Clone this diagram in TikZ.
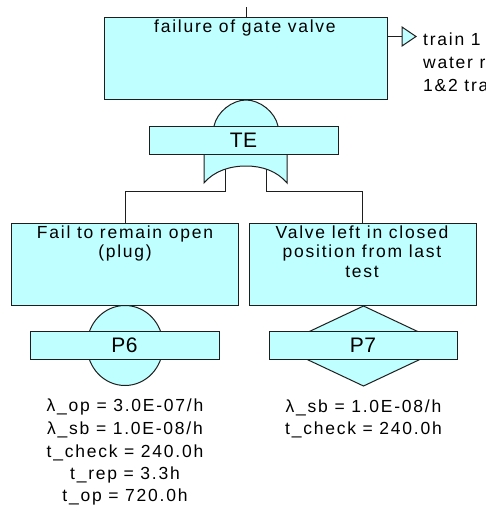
\documentclass[tikz,border=0pt]{standalone}
\usepackage{fontspec}
\newfontfamily\bodyfont{Liberation Sans}[LetterSpace=10]
\newfontfamily\gatefont{Liberation Sans}[LetterSpace=3]
\definecolor{gatefill}{RGB}{192,255,255}
\definecolor{edge}{RGB}{30,30,30}

\begin{document}
\begin{tikzpicture}[x=1pt, y=-1pt,
  wire/.style={draw=edge, line width=1pt},
  event/.style={wire, fill=gatefill, rectangle, inner sep=0pt},
  bigbox/.style={event, minimum width=227pt, minimum height=82pt},
  tag/.style={event, minimum width=189pt, minimum height=28pt,
    font=\gatefont\fontsize{21}{21}\selectfont},
  txt/.style={inner sep=0pt, anchor=base, font=\bodyfont\fontsize{17.5}{20}\selectfont},
  lefttxt/.style={txt, anchor=base west}]

\useasboundingbox (0,0) rectangle (486,507);
\clip (0,0) rectangle (486,507);

% top event
\node[event, minimum width=283pt, minimum height=82pt] (top) at (245.5,58) {};
\coordinate (topin) at (246,7);
\draw[wire] (topin) -- (topin |- top.north);
\node[txt] (toptxt) at (245,32) {failure of gate valve};

% transfer-out triangle
\coordinate (xfer) at (402,36.5);
\draw[wire] (top.east |- xfer) -- (xfer);
\filldraw[wire, fill=gatefill] (xfer) -- ++(0,-9.5) -- ++(14,9.5) -- ++(-14,9.5) -- cycle;
\node[lefttxt] (xt1) at (423,45.5) {train 1};
\node[lefttxt] (xt2) at (423,68.5) {water r};
\node[lefttxt] (xt3) at (423,91) {1\&2 tra};

% OR gate
\filldraw[wire, fill=gatefill] (214,126) .. controls (217,112) and (232,100) .. (246,100)
  .. controls (260,100) and (275,112) .. (278,126);
\filldraw[wire, fill=gatefill] (204,154) -- (204,183)
  .. controls (214,171) and (230,166) .. (246,166)
  .. controls (262,166) and (277,171) .. (287,183) -- (287,154);
\node[tag] (te) at (243.5,140) {TE};

% inputs
\node[bigbox] (left) at (125,264) {};
\node[bigbox] (right) at (362.5,264) {};
\coordinate (orl) at (225,168.5);
\coordinate (orr) at (266,168.5);
\draw[wire] (orl) -- ++(0,22.5) -| (left.north);
\draw[wire] (orr) -- ++(0,22.5) -| (right.north);

\node[txt] (l1) at (125,238) {Fail to remain open};
\node[txt] (l2) at (125,257) {(plug)};
\node[txt] (r1) at (362,238) {Valve left in closed};
\node[txt] (r2) at (362,257.5) {position from last};
\node[txt] (r3) at (362,277) {test};

% basic event P6
\filldraw[wire, fill=gatefill] (125,345.5) ellipse [x radius=38, y radius=40];
\node[tag] (p6) at (124.5,345) {P6};

% undeveloped event P7
\filldraw[wire, fill=gatefill] (363.5,306) -- (448.5,346) -- (363.5,386) -- (278.5,346) -- cycle;
\node[tag, minimum width=188pt] (p7) at (363,345) {P7};

% parameters
\node[txt] (a1) at (125,411.5) {λ\_op = 3.0E-07/h};
\node[txt] (a2) at (125,434) {λ\_sb = 1.0E-08/h};
\node[txt] (a3) at (125,457) {t\_check = 240.0h};
\node[txt] (a4) at (125,479) {t\_rep = 3.3h};
\node[txt] (a5) at (125,501) {t\_op = 720.0h};
\node[txt] (b1) at (363.5,412) {λ\_sb = 1.0E-08/h};
\node[txt] (b2) at (363.5,434.5) {t\_check = 240.0h};
\end{tikzpicture}
\end{document}
